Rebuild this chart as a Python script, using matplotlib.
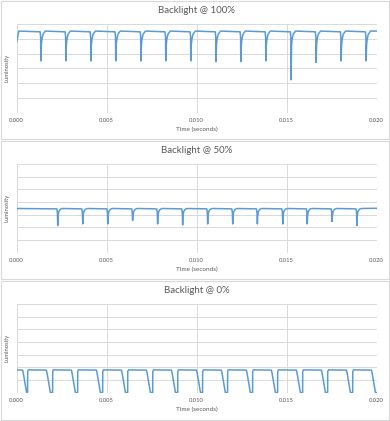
import matplotlib
matplotlib.use("Agg")
import matplotlib.pyplot as plt
from matplotlib.patches import Rectangle
import numpy as np

# --- data (time in seconds, luminosity in grid units) ---
# Backlight @ 100%: flat top with short dips
t100_level = 5.52
t100_start = 4.8
t100_dips = [0.00134, 0.00273, 0.00412, 0.00550, 0.00690, 0.00828, 0.00967,
             0.01107, 0.01245, 0.01384, 0.01524, 0.01663, 0.01802, 0.01941]
t100_depth = [3.50, 3.50, 3.50, 3.50, 3.50, 3.50, 3.50,
              3.45, 3.45, 3.50, 2.22, 3.40, 3.50, 3.50]

# Backlight @ 50%
t50_level = 3.48
t50_dips = [0.00228, 0.00367, 0.00506, 0.00644, 0.00783, 0.00922, 0.01061,
            0.01200, 0.01337, 0.01478, 0.01614, 0.01752, 0.01890]
t50_depth = [2.13, 2.26, 2.26, 2.53, 2.26, 2.18, 2.26,
             2.26, 2.26, 2.26, 2.26, 2.45, 2.13]

# Backlight @ 0%: square-ish PWM pulses
t0_level = 1.79
t0_rises = [0.00061, 0.00200, 0.00339, 0.00478, 0.00617, 0.00756, 0.00895,
            0.01033, 0.01172, 0.01311, 0.01450, 0.01589, 0.01728, 0.01867]
t0_fall_start = [0.00033, 0.00165, 0.00304, 0.00443, 0.00582, 0.00721, 0.00860,
                 0.00999, 0.01137, 0.01276, 0.01415, 0.01554, 0.01693, 0.01832, 0.01971]

titles = ["Backlight @ 100%", "Backlight @ 50%", "Backlight @ 0%"]
ymax = [6, 7, 7]

LINE = "#5B9BD5"
GRID = "#D9D9D9"
TEXT = "#595959"


def build_100():
    pts = [(0.0, t100_start), (0.00012, t100_level)]
    for td, d in zip(t100_dips, t100_depth):
        pts += [(td - 0.00004, t100_level - 0.05), (td - 0.00001, t100_level - 0.4),
                (td, d), (td + 0.00003, 4.6), (td + 0.00006, 4.95),
                (td + 0.00012, 5.3), (td + 0.00025, t100_level)]
    pts.append((0.02, t100_level))
    return zip(*pts)


def build_50():
    pts = [(0.0, t50_level)]
    for td, d in zip(t50_dips, t50_depth):
        pts += [(td - 0.00005, t50_level - 0.03), (td - 0.00002, 3.15),
                (td, d), (td + 0.00002, 2.9), (td + 0.00006, 3.25),
                (td + 0.00014, 3.42), (td + 0.00025, t50_level)]
    pts.append((0.02, t50_level + 0.02))
    return zip(*pts)


def build_0():
    pts = [(0.0, t0_level)]
    rises = [None] + t0_rises
    for i, tf in enumerate(t0_fall_start):
        if rises[i] is not None:
            tr = rises[i]
            pts += [(tr - 0.000005, 0.0), (tr, 1.65), (tr + 0.00004, t0_level)]
        pts += [(tf, t0_level - 0.02), (tf + 0.00004, 1.5), (tf + 0.00022, 0.0)]
    pts.append((0.02, 0.0))
    return zip(*pts)


series = [build_100(), build_50(), build_0()]

plt.rcParams['font.family'] = ['Lato', 'DejaVu Sans']

W, H = 390, 421
fig = plt.figure(figsize=(W / 100, H / 100), dpi=100)

# panel frames (pixels from top)
frames = [(1, 1, 388, 138), (1, 141, 388, 138), (1, 281, 388, 139)]
axes_top = [24, 164, 304]
axes_h = 88.5

for i in range(3):
    fx, fy, fw, fh = frames[i]
    fig.patches.append(Rectangle((fx / W, 1 - (fy + fh) / H), fw / W, fh / H,
                                 transform=fig.transFigure, fill=False,
                                 edgecolor=GRID, linewidth=0.8))
    bottom = 1 - (axes_top[i] + axes_h) / H
    ax = fig.add_axes([16.7 / W, bottom, 360 / W, axes_h / H])
    x, y = series[i]
    ax.plot(list(x), list(y), color=LINE, linewidth=1.1)
    ax.set_xlim(0, 0.02)
    ax.set_ylim(0, ymax[i])
    ax.set_xticks([0, 0.005, 0.01, 0.015, 0.02])
    ax.set_xticklabels(["0.000", "0.005", "0.010", "0.015", "0.020"])
    ax.set_yticks(range(ymax[i] + 1))
    ax.set_yticklabels([])
    ax.grid(True, color=GRID, linewidth=0.7)
    ax.set_axisbelow(True)
    for s in ax.spines.values():
        s.set_visible(False)
    ax.tick_params(length=0, labelsize=4.2, labelcolor=TEXT, pad=4)
    ax.set_title(titles[i], fontsize=7, color=TEXT, pad=8)
    ax.set_xlabel("Time (seconds)", fontsize=4.6, color=TEXT, labelpad=2.5)
    ax.set_ylabel("Luminosity", fontsize=4.2, color=TEXT, labelpad=1.5)

fig.savefig("out.png", dpi=100, facecolor="white")
